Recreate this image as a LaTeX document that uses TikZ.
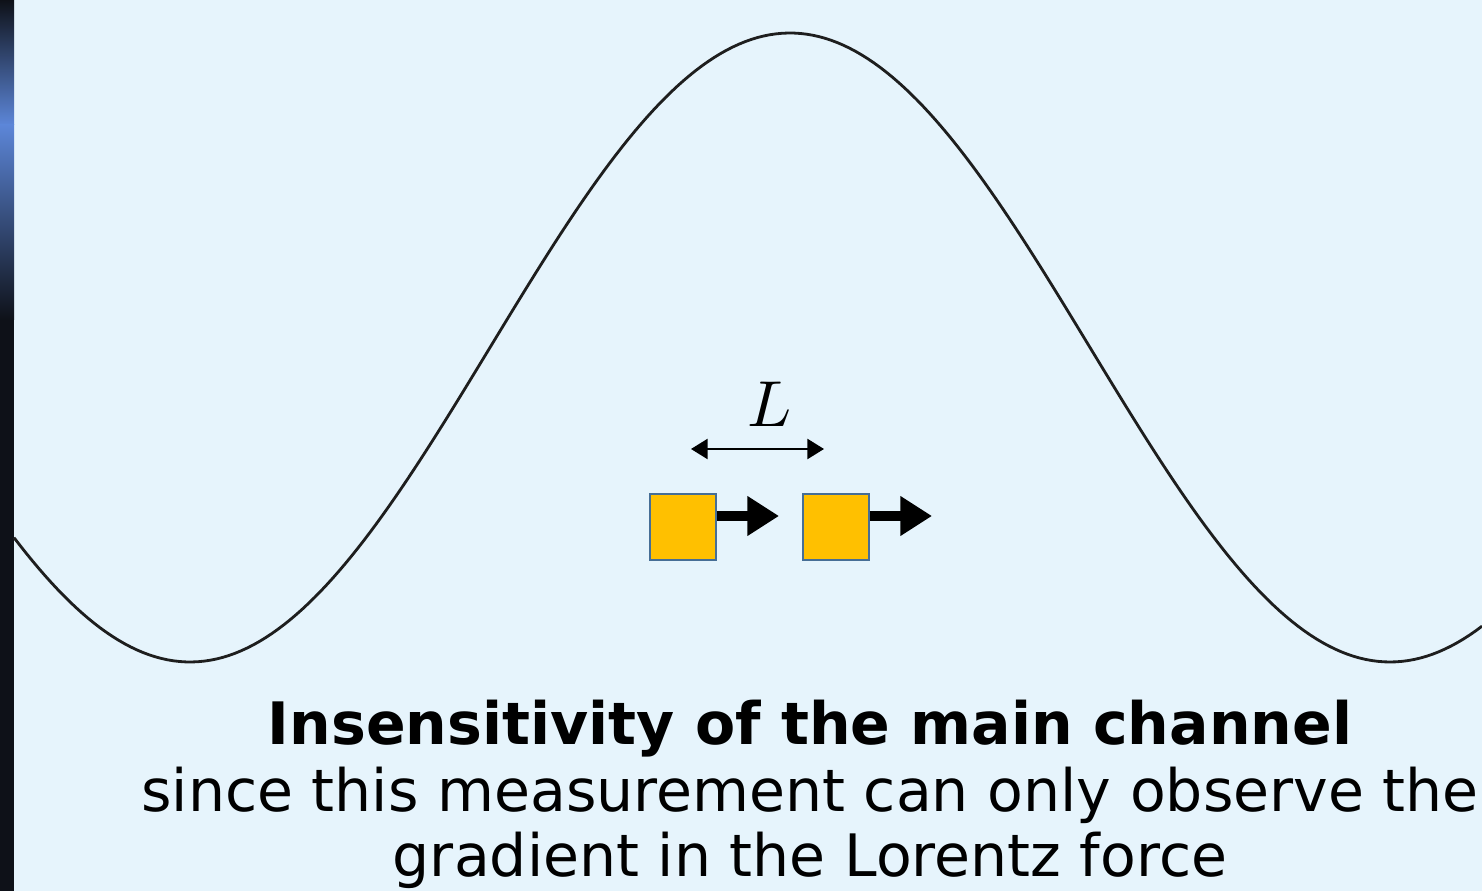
\documentclass[tikz,border=0pt]{standalone}
\usepackage{fontspec}
\setmainfont{DejaVu Sans}
\usepackage{tikz}
\usetikzlibrary{arrows.meta, positioning, calc}
\definecolor{panelblue}{RGB}{230, 244, 252}
\definecolor{stripdark}{RGB}{14, 17, 24}
\definecolor{stripblue}{RGB}{92, 134, 216}
\definecolor{chargeyellow}{RGB}{255, 192, 0}
\definecolor{chargeedge}{RGB}{70, 110, 150}
\definecolor{wavegray}{RGB}{30, 30, 30}

\begin{document}
\begin{tikzpicture}[x=0.02cm, y=-0.02cm,
    charge/.style={fill=chargeyellow, draw=chargeedge, line width=0.6pt,
                   minimum width=66*0.02cm, minimum height=66*0.02cm, inner sep=0pt},
    push/.style={line width=5.7pt, -{Triangle[length=18pt, width=21.5pt]}},
    textline/.style={anchor=base, inner sep=0pt, font=\fontsize{33.3}{40}\selectfont}]
    \useasboundingbox (0,0) rectangle (1482,891);
    % background and left strip
    \fill[panelblue] (0,0) rectangle (1482,891);
    \shade[top color=stripdark, bottom color=stripblue] (0,0) rectangle (14,125);
    \shade[top color=stripblue, bottom color=stripdark] (0,125) rectangle (14,320);
    \fill[stripdark] (0,320) rectangle (14,891);
    % field profile
    \draw[wavegray, line width=1.6pt] plot[domain=14:1482, samples=240]
        (\x, {347.5-314.5*cos(0.3*(\x-790))});
    % two charges
    \node[charge] (qa) at (683,527) {};
    \node[charge] (qb) at (836,527) {};
    \coordinate (qaend) at (779,516);
    \coordinate (qbend) at (932,516);
    \draw[push] (qa.east |- qaend) -- (qaend);
    \draw[push] (qb.east |- qbend) -- (qbend);
    % separation
    \coordinate (sepl) at (691,449);
    \coordinate (sepr) at (824,449);
    \draw[line width=1.1pt, {Triangle[length=9.5pt, width=11.5pt]}-{Triangle[length=9.5pt, width=11.5pt]}]
        (sepl) -- (sepr);
    \node[scale=3.7] (sep) at (770,404) {$L$};
    % caption
    \node[textline, font=\fontsize{33.3}{40}\selectfont\bfseries] (title) at (810,745)
        {Insensitivity of the main channel};
    \node[textline] (lineone) at (810,812) {since this measurement can only observe the};
    \node[textline] (linetwo) at (810,877) {gradient in the Lorentz force};
\end{tikzpicture}
\end{document}
